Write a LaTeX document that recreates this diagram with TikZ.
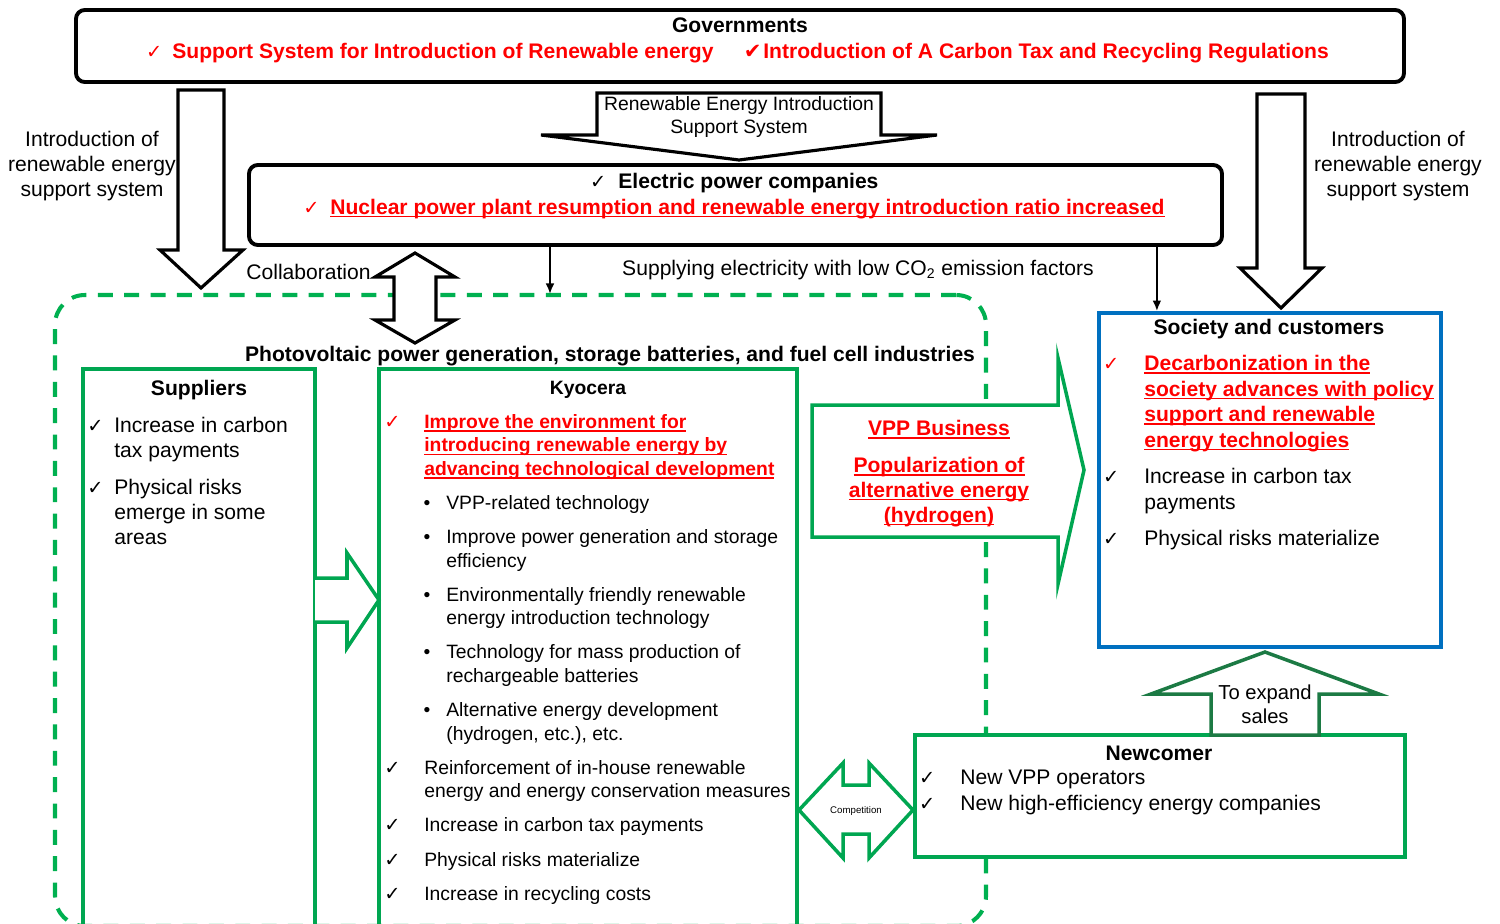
\documentclass[tikz,border=0pt]{standalone}
\usepackage{fontspec}
\setmainfont{Liberation Sans}
\newfontfamily\symfont{DejaVu Sans}
\usetikzlibrary{fit,calc,arrows.meta}

\definecolor{kgreen}{RGB}{0,166,81}
\definecolor{dashgreen}{RGB}{0,176,80}
\definecolor{darkgreen}{RGB}{28,122,68}
\definecolor{kblue}{RGB}{0,112,192}
\definecolor{kred}{RGB}{255,0,0}

\newcommand{\tick}[1]{\llap{{\normalfont\symfont\bfseries\fontsize{11}{11}\selectfont ✓}\hspace{#1}}}
\newcommand{\ulx}[1]{\setbox0\hbox{#1}\rlap{\rule[-1.9pt]{\wd0}{0.9pt}}\box0}
\newcommand{\redul}[1]{\textcolor{kred}{\bfseries\ulx{#1}}}
\newcommand{\bul}{\hspace*{12.5pt}\llap{•\hspace{9pt}}}
\newcommand{\ind}{\hspace*{12.5pt}}

\tikzset{
  headtxt/.style={inner sep=0pt, font=\fontsize{12}{14.2}\selectfont\bfseries},
  redhead/.style={headtxt, text=kred},
  bodytxt/.style={inner sep=0pt, align=left, font=\fontsize{12}{14.2}\selectfont},
  smalltxt/.style={inner sep=0pt, align=left, font=\fontsize{11}{13.4}\selectfont},
  blackbox/.style={draw, line width=2.2pt, rounded corners=5pt, inner sep=0pt},
  greenbox/.style={draw=kgreen, line width=2.2pt, inner sep=0pt},
  bluebox/.style={draw=kblue, line width=2.2pt, inner sep=0pt},
  dashbox/.style={draw=dashgreen, line width=2.3pt, dash pattern=on 8.5pt off 6.5pt, rounded corners=17pt, inner sep=0pt},
  blockarrow/.style={draw, line width=1.8pt, fill=white, line join=miter},
  greenarrow/.style={draw=kgreen, line width=2pt, fill=white, line join=miter},
  thinarrow/.style={->, line width=1.1pt}
}

\begin{document}
\begin{tikzpicture}[x=0.02cm, y=-0.02cm, >={Latex[length=6pt,width=5pt]}]
\useasboundingbox (0,0) rectangle (1500,923);
\clip (0,0) rectangle (1500,923);

% frames
\node[name=industry, dashbox, fit={(55,295) (986,926)}] {};
\node[name=suppliers, greenbox, fit={(83,369) (315,940)}] {};
\node[name=kyocera, greenbox, fit={(379,369) (797,940)}] {};
\node[name=society, bluebox, fit={(1099,313) (1441,647)}] {};
\node[name=newcomer, greenbox, fill=white, fit={(915,735) (1405,857)}] {};
\node[name=gov, blackbox, fit={(76,10) (1404,82)}] {};
\node[name=power, blackbox, fit={(249,165) (1222,245)}] {};

% block arrows
\draw[blockarrow] (178,90) -- (224,90) -- (224,250) -- (243,250) -- (201,288) -- (160,250) -- (178,250) -- cycle;
\draw[blockarrow] (597,93) -- (881,93) -- (881,135) -- (937,135) -- (739,160) -- (541,135) -- (597,135) -- cycle;
\draw[blockarrow] (1257,94) -- (1305,94) -- (1305,268) -- (1322,268) -- (1281,308) -- (1240,268) -- (1257,268) -- cycle;
\draw[blockarrow] (415,253) -- (455,277) -- (436,277) -- (436,320) -- (455,320) -- (415,343) -- (375,320) -- (394,320) -- (394,277) -- (375,277) -- cycle;
\draw[greenarrow] (315,578) -- (347,578) -- (347,553) -- (379,600) -- (347,648) -- (347,622) -- (315,622);
\draw[greenarrow] (812,405) -- (1058,405) -- (1058,358) -- (1084,470) -- (1058,584) -- (1058,537) -- (812,537) -- cycle;
\draw[greenarrow] (799,810) -- (843,763) -- (843,785) -- (869,785) -- (869,763) -- (913,810) -- (869,858) -- (869,834) -- (843,834) -- (843,858) -- cycle;
\draw[greenarrow, draw=darkgreen] (1265,652) -- (1379,694) -- (1319,694) -- (1319,735) -- (1211,735) -- (1211,694) -- (1151,694) -- cycle;

% supply arrows
\coordinate (pv_entry) at (550,294);
\coordinate (soc_entry) at ($(society.north west)!0.173!(society.north east)$);
\draw[thinarrow] (power.south -| pv_entry) -- (pv_entry);
\draw[thinarrow] (power.south -| soc_entry) -- (soc_entry);

% texts
\node[name=gov_title, headtxt] at (740,25) {Governments};
\node[name=gov_support, redhead, anchor=base west] at (172,58) {\tick{5.7pt}Support System for Introduction of Renewable energy};
\node[name=gov_tax, redhead, anchor=base west] at (763,58) {\llap{{\normalfont\symfont\fontsize{12}{12}\selectfont ✔}\hspace{1pt}}Introduction of A Carbon Tax and Recycling Regulations};
\node[name=left_label, bodytxt, align=center] at (92,166) {Introduction of\\renewable energy\\support system};
\node[name=right_label, bodytxt, align=center] at (1398,166) {Introduction of\\renewable energy\\support system};
\node[name=mid_label, smalltxt, align=center, anchor=north] at (739,96) {Renewable Energy Introduction\\Support System};
\node[name=power_title, headtxt, anchor=base west] at (618,188) {\tick{6.8pt}Electric power companies};
\node[name=power_goal, redhead, anchor=base west] at (330,214) {\tick{6.2pt}\ulx{Nuclear power plant resumption and renewable energy introduction ratio increased}};
\node[name=collab_label, bodytxt, anchor=base east] at (371,279) {Collaboration};
\node[name=supply_label, bodytxt, anchor=base] at (858,275) {Supplying electricity with low CO\textsubscript{2} emission factors};
\node[name=industry_title, headtxt, anchor=base] at (610,361) {Photovoltaic power generation, storage batteries, and fuel cell industries};

\node[name=sup_title, headtxt, anchor=base] at (199,395) {Suppliers};
\node[name=sup_items, bodytxt, anchor=north west] at (114,417) {\tick{6.2pt}Increase in carbon\\tax payments\\[6.8pt]\tick{6.2pt}Physical risks\\emerge in some\\areas};

\node[name=kyo_title, headtxt, font=\fontsize{11}{13.4}\selectfont\bfseries, anchor=base] at (588,394) {Kyocera};
\node[name=kyo_items, smalltxt, anchor=north west] at (424,414) {%
\textcolor{kred}{\tick{13.6pt}}\redul{Improve the environment for}\\
\redul{introducing renewable energy by}\\
\redul{advancing technological development}\\[6pt]
\bul VPP-related technology\\[6pt]
\bul Improve power generation and storage\\
\ind efficiency\\[6pt]
\bul Environmentally friendly renewable\\
\ind energy introduction technology\\[6pt]
\bul Technology for mass production of\\
\ind rechargeable batteries\\[6pt]
\bul Alternative energy development\\
\ind (hydrogen, etc.), etc.\\[6pt]
\tick{13.6pt}Reinforcement of in-house renewable\\
energy and energy conservation measures\\[6pt]
\tick{13.6pt}Increase in carbon tax payments\\[6.2pt]
\tick{13.6pt}Physical risks materialize\\[6.2pt]
\tick{13.6pt}Increase in recycling costs};

\node[name=vpp_text, bodytxt, align=center, anchor=north] at (939,420) {\redul{VPP Business}\\[6.6pt]\redul{Popularization of}\\\redul{alternative energy}\\\redul{(hydrogen)}};

\node[name=soc_title, headtxt, anchor=base] at (1269,334) {Society and customers};
\node[name=soc_items, bodytxt, font=\fontsize{12}{14.5}\selectfont, anchor=north west] at (1144,355) {%
\textcolor{kred}{\tick{14.2pt}}\redul{Decarbonization in the}\\
\redul{society advances with policy}\\
\redul{support and renewable}\\
\redul{energy technologies}\\[6.4pt]
\tick{14.2pt}Increase in carbon tax\\
payments\\[6.4pt]
\tick{14.2pt}Physical risks materialize};

\node[name=expand_label, bodytxt, align=center, font=\fontsize{11.5}{14.2}\selectfont, anchor=north] at (1265,684) {To expand\\sales};
\node[name=new_title, headtxt, anchor=base] at (1159,760) {Newcomer};
\node[name=new_items, bodytxt, font=\fontsize{12}{14.6}\selectfont, anchor=north west] at (960,770) {\tick{14.2pt}New VPP operators\\\tick{14.2pt}New high-efficiency energy companies};
\node[name=compete_label, inner sep=0pt, font=\fontsize{5.5}{6}\selectfont] at (856,811) {Competition};
\end{tikzpicture}
\end{document}
